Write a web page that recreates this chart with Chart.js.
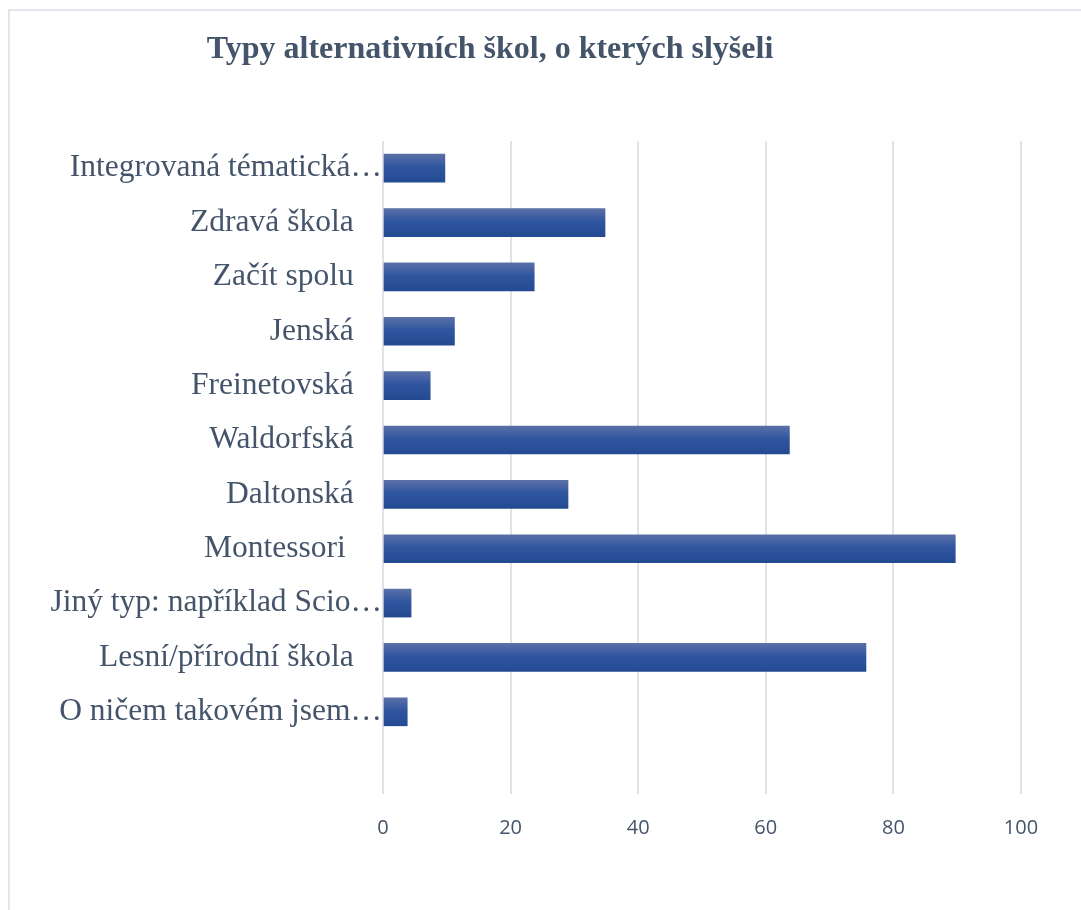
<!DOCTYPE html>
<html><head><meta charset="utf-8">
<script src="https://cdn.jsdelivr.net/npm/chart.js@4.4.1/dist/chart.umd.min.js"></script>
<style>
html,body{margin:0;padding:0;background:#fff;}
#wrap{position:relative;width:1081px;height:910px;overflow:hidden;}
#frame{position:absolute;left:8px;top:9px;width:1200px;height:1000px;border-top:2px solid #E1E5EC;border-left:2px solid #E1E5EC;}
canvas{position:absolute;left:0;top:0;}
</style></head><body>
<div id="wrap"><div id="frame"></div><canvas id="c" width="1081" height="910"></canvas></div>
<script>
const chartTitle = 'Typy alternativních škol, o kterých slyšeli';
const categories = [
  'Integrovaná tématická…',
  'Zdravá škola',
  'Začít spolu',
  'Jenská',
  'Freinetovská',
  'Waldorfská',
  'Daltonská',
  'Montessori ',
  'Jiný typ: například Scio…',
  'Lesní/přírodní škola',
  'O ničem takovém jsem…'
];
const values = [9.7, 34.8, 23.7, 11.2, 7.4, 63.7, 29.0, 89.7, 4.4, 75.7, 3.8];
const xMin = 0, xMax = 100, xStep = 20;

const TEXT = '#44546A';

const titlePlugin = {
  id: 'customTitle',
  afterDraw(chart) {
    const c = chart.ctx;
    c.save();
    c.font = 'bold 32px "Liberation Serif"';
    c.fillStyle = TEXT;
    c.textAlign = 'center';
    c.textBaseline = 'alphabetic';
    c.fillText(chartTitle, 490, 58);
    c.restore();
  }
};

new Chart(document.getElementById('c'), {
  type: 'bar',
  data: {
    labels: categories,
    datasets: [{
      data: values,
      barThickness: 28,
      borderWidth: 0,
      backgroundColor: (ctx) => {
        const chart = ctx.chart;
        if (!chart.chartArea || ctx.type !== 'data' || !chart.scales.y) return '#2F55A0';
        const y = chart.scales.y.getPixelForValue(ctx.dataIndex);
        const g = chart.ctx.createLinearGradient(0, y - 14, 0, y + 14);
        g.addColorStop(0, '#5B70A7');
        g.addColorStop(0.45, '#3056A0');
        g.addColorStop(1, '#234A91');
        return g;
      }
    }]
  },
  options: {
    indexAxis: 'y',
    responsive: false,
    animation: false,
    devicePixelRatio: 1,
    layout: { padding: { top: 141, right: 60, left: 0, bottom: 0 } },
    plugins: { legend: { display: false }, tooltip: { enabled: false }, title: { display: false } },
    scales: {
      x: {
        min: xMin, max: xMax,
        ticks: { stepSize: xStep, color: TEXT, font: { family: '"Open Sans"', size: 20 }, padding: 22, maxRotation: 0 },
        grid: { color: '#DEE2E9', lineWidth: 2, tickLength: 55, drawTicks: true, tickColor: '#DEE2E9' },
        border: { display: false },
        afterFit(scale) { scale.height = 171; }
      },
      y: {
        ticks: {
          color: TEXT, autoSkip: false, padding: 1,
          font: { family: '"Liberation Serif"', size: 31.5 },
          callback(v, i) { const l = categories[i]; return l.endsWith('…') ? l : l + '\u2002\u2009\u2009'; }
        },
        grid: { display: false, drawTicks: false },
        border: { display: false },
        afterFit(scale) { scale.width = 383; }
      }
    }
  },
  plugins: [titlePlugin]
});
</script>
</body></html>
